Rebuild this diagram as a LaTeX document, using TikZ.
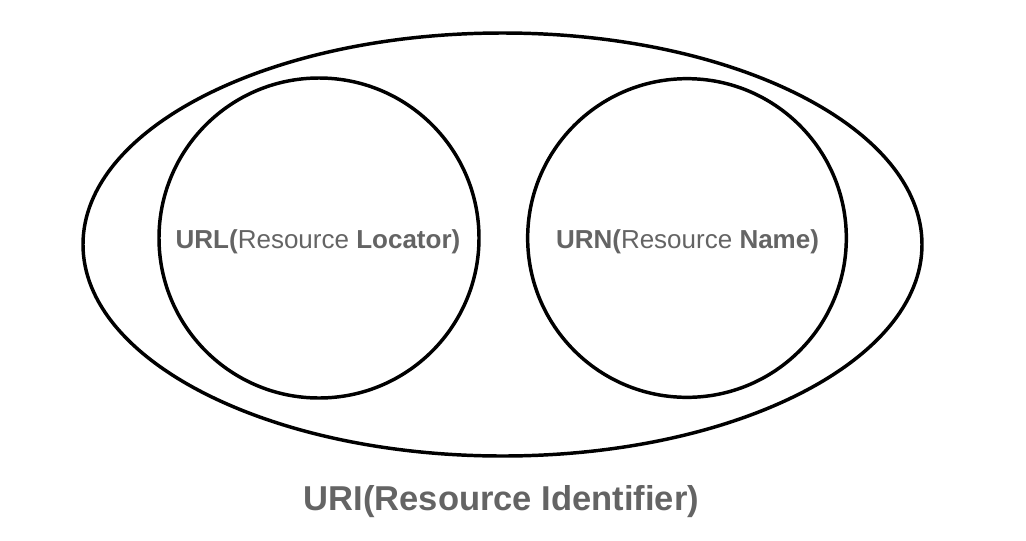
\documentclass[tikz,border=0pt]{standalone}
\usepackage{fontspec}
\setmainfont{Liberation Sans}
\usetikzlibrary{shapes.geometric}
\definecolor{labelgray}{RGB}{100,100,100}
\tikzset{
  ring/.style={draw=black, line width=2.6pt, inner sep=0pt, outer sep=0pt},
  lbl/.style={text=labelgray, inner sep=0pt, anchor=base, font=\fontsize{19.5}{23}\selectfont},
  biglbl/.style={text=labelgray, inner sep=0pt, anchor=base, font=\fontsize{25.9}{30}\selectfont\bfseries}
}
\begin{document}
\begin{tikzpicture}[x=0.75pt, y=-0.75pt]
\useasboundingbox (0,0) rectangle (1026,540);
\node[ring, ellipse, minimum width=629.25pt, minimum height=317.25pt] (uri) at (502.5,244.5) {};
\node[ring, circle, minimum size=240pt] (url) at (319,238) {};
\node[ring, circle, minimum size=239pt] (urn) at (687,238) {};
\node[lbl] (urltext) at (318,248) {\textbf{URL(}Resource \textbf{Locator)}};
\node[lbl] (urntext) at (687.5,248) {\textbf{URN(}Resource \textbf{Name)}};
\node[biglbl] (uritext) at (501.5,510.5) {URI(Resource Identifier)};
\end{tikzpicture}
\end{document}
